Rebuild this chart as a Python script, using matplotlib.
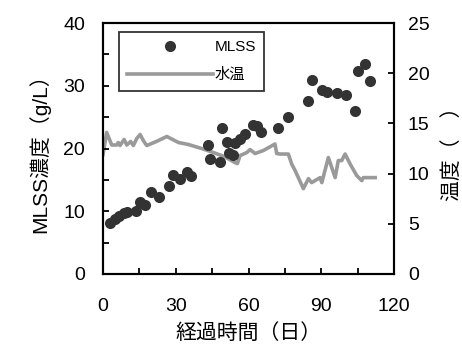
import matplotlib
matplotlib.use("Agg")
import matplotlib.pyplot as plt
from matplotlib.ticker import MultipleLocator

plt.rcParams['font.family'] = ['Liberation Sans', 'Noto Sans CJK JP', 'DejaVu Sans']

# MLSS concentration (g/L) by elapsed day
mlss_day = [2.9, 4.9, 6.7, 8.7, 9.8, 13.6, 15.3, 17.3, 19.7, 23.0,
            27.1, 29.0, 31.8, 34.5, 36.3, 43.4, 44.1, 48.2, 48.9, 51.0,
            52.1, 53.7, 54.4, 56.5, 58.6, 62.0, 63.6, 65.2, 72.0, 76.4,
            84.7, 86.3, 90.2, 92.2, 96.4, 100.1, 103.9, 105.3, 108.0, 110.1]
mlss_val = [8.2, 8.8, 9.3, 9.7, 9.8, 10.1, 11.5, 11.0, 13.0, 12.3,
            14.0, 15.7, 15.2, 16.2, 15.6, 20.5, 18.4, 17.8, 23.2, 21.0,
            19.3, 18.9, 20.9, 21.5, 22.3, 23.7, 23.6, 22.6, 23.2, 25.1,
            27.6, 30.9, 29.4, 29.0, 28.8, 28.6, 26.0, 32.4, 33.5, 30.8]

# Water temperature by elapsed day
temp_day = [0, 1.5, 3.6, 5.6, 6.3, 7.0, 8.7, 9.8, 11.4, 12.5,
            13.9, 15.3, 16.6, 18.0, 22.0, 26.3, 28.3, 31.1, 35.2, 40.7,
            45.5, 50.0, 54.4, 55.4, 56.5, 59.3, 60.6, 62.7, 66.1, 70.9,
            71.6, 73.0, 76.4, 77.8, 79.2, 82.6, 84.7, 86.0, 89.5, 90.2,
            92.9, 95.7, 97.0, 98.4, 99.8, 101.9, 104.6, 106.7, 107.3, 112.2]
temp_val = [11.9, 14.1, 12.85, 12.85, 13.1, 12.8, 13.4, 12.85, 13.2, 12.8,
            13.5, 13.9, 13.3, 12.8, 13.2, 13.7, 13.45, 13.1, 12.9, 12.5,
            12.1, 11.7, 11.1, 11.0, 11.8, 12.1, 12.4, 12.0, 12.3, 12.95,
            12.0, 11.95, 11.95, 10.95, 10.3, 8.5, 9.5, 9.1, 9.6, 9.1,
            11.6, 9.6, 11.3, 11.3, 11.95, 10.95, 9.8, 9.3, 9.6, 9.6]

fig = plt.figure(figsize=(4.62, 3.45), dpi=100)
ax = fig.add_axes([0.223, 0.206, 0.630, 0.727])
ax2 = ax.twinx()

line_color = '#9a9a9a'
dot_color = '#333333'

h_temp, = ax2.plot(temp_day, temp_val, color=line_color, lw=2.6, label='水温', zorder=2)
h_mlss, = ax.plot(mlss_day, mlss_val, 'o', color=dot_color, ms=8, mec='none', label='MLSS', zorder=3)
ax.set_zorder(ax2.get_zorder() + 1)
ax.patch.set_visible(False)

ax.set_xlim(0, 120)
ax.set_ylim(0, 40)
ax2.set_ylim(0, 25)

ax.xaxis.set_major_locator(MultipleLocator(30))
ax.xaxis.set_minor_locator(MultipleLocator(15))
ax.yaxis.set_major_locator(MultipleLocator(10))
ax.yaxis.set_minor_locator(MultipleLocator(5))
ax2.yaxis.set_major_locator(MultipleLocator(5))

for a in (ax, ax2):
    for s in a.spines.values():
        s.set_linewidth(1.5)
        s.set_color('black')

ax.tick_params(which='both', direction='in', length=4, width=1.3, labelsize=14)
ax.tick_params(axis='y', pad=13)
ax.tick_params(axis='x', pad=17)
ax2.tick_params(which='both', direction='in', length=4, width=1.3, labelsize=14, pad=10)

ax.set_xlabel('経過時間（日）', fontsize=15, labelpad=6)
ax.set_ylabel('MLSS濃度（g/L）', fontsize=15, labelpad=9)
ax2.set_ylabel('温度（　）', fontsize=15, labelpad=9, rotation=90)

leg = ax.legend([h_mlss, h_temp], ['MLSS', '水温'], loc='upper left',
                bbox_to_anchor=(0.055, 0.965), fontsize=11, frameon=True,
                fancybox=False, edgecolor='black', markerfirst=True,
                handlelength=5.6, handletextpad=0.1, borderpad=0.55,
                labelspacing=0.9, borderaxespad=0)
leg.get_frame().set_linewidth(1.3)

fig.savefig('out.png', dpi=100)
